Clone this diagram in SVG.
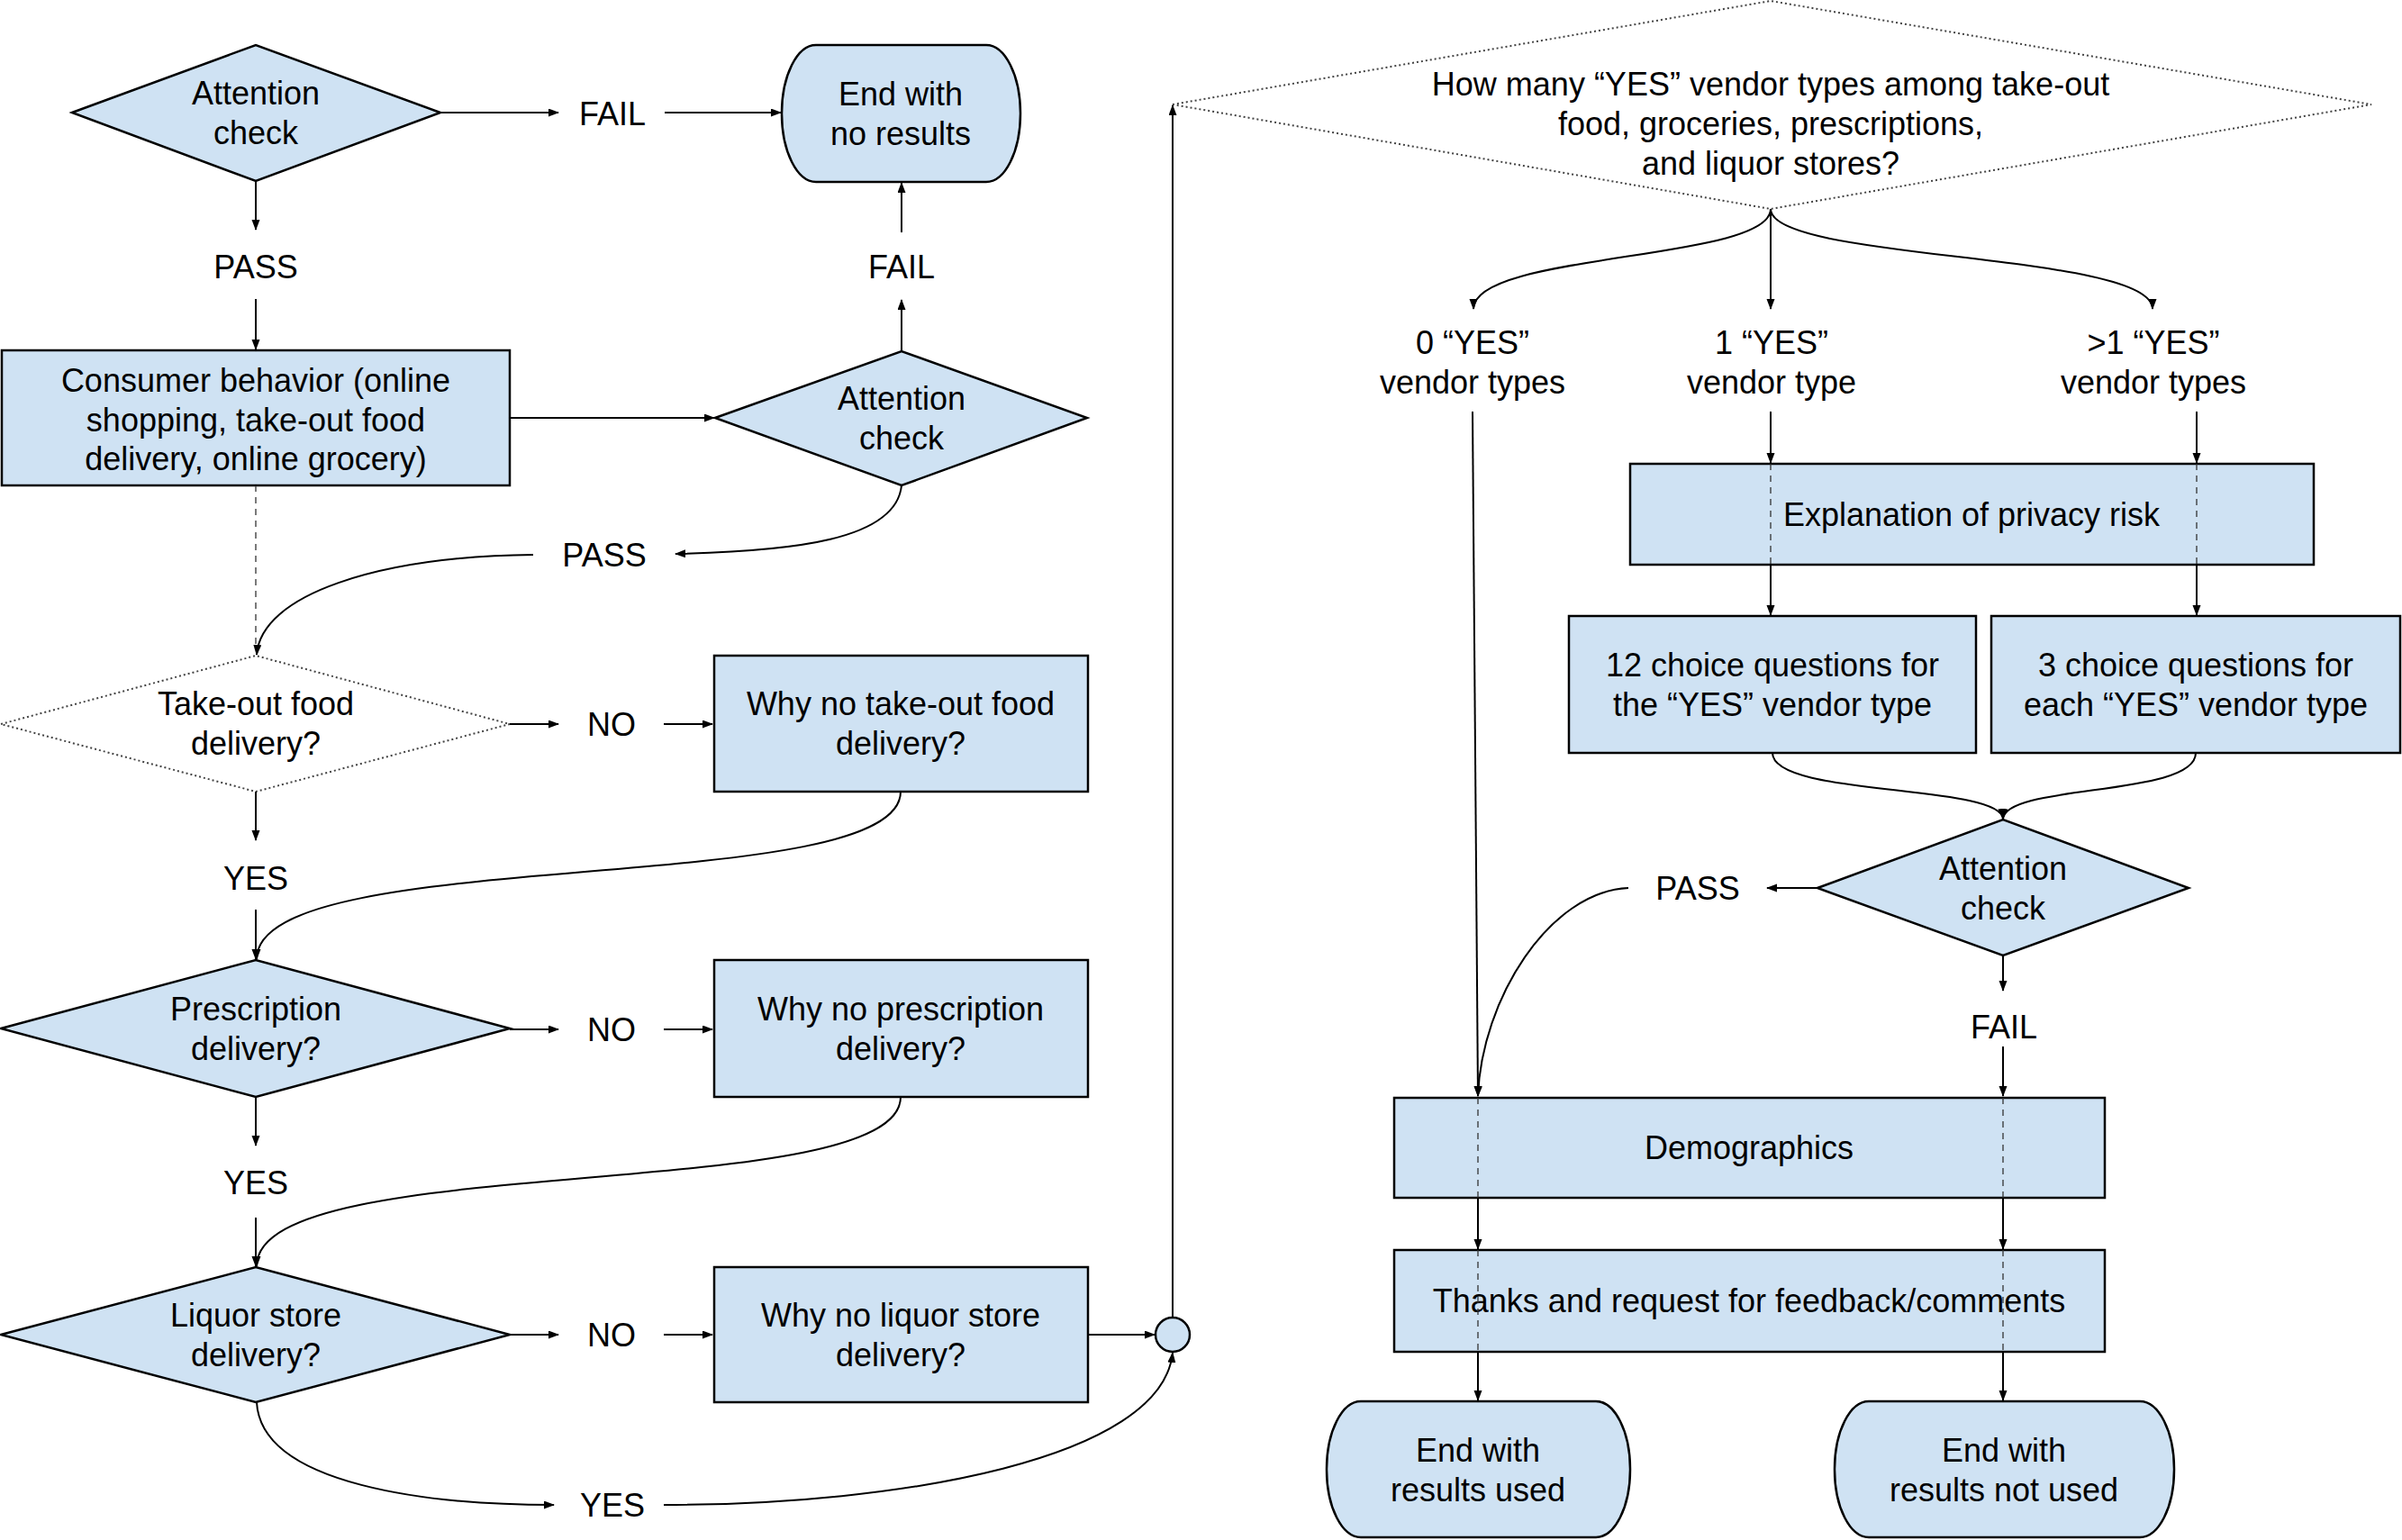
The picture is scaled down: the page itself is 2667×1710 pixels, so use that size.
<svg xmlns="http://www.w3.org/2000/svg" width="2667" height="1710" viewBox="0 0 2667 1710">
  <defs>
    <marker id="arrow" markerUnits="userSpaceOnUse" markerWidth="12" markerHeight="10" refX="11" refY="4.5" orient="auto">
      <path d="M0,0 L12,4.5 L0,9 z" fill="#000"/>
    </marker>
    <style>
      .box { fill: #cfe2f3; stroke: #000; stroke-width: 2.5; }
      .dot { fill: #fff; stroke: #444; stroke-width: 2; stroke-dasharray: 2 3; }
      .conn { fill: none; stroke: #000; stroke-width: 2; marker-end: url(#arrow); }
      .hid { fill: none; stroke: #333; stroke-width: 1.3; stroke-dasharray: 7 6; }
      text { font-family: "Liberation Sans", Arial, sans-serif; font-size: 36px; fill: #000; text-anchor: middle; }
    </style>
  </defs>
  <rect width="2667" height="1710" fill="#fff"/>

  <!-- nodes -->
  <g id="attention-1">
    <polygon class="box" points="80,125 284,50 489,125 284,201"/>
    <text x="284" y="116">Attention</text>
    <text x="284" y="160">check</text>
  </g>
  <g id="label-fail-1"><text x="680" y="139">FAIL</text></g>
  <g id="end-no-results">
    <rect class="box" x="868" y="50" width="265" height="152" rx="38" ry="76"/>
    <text x="1000" y="117">End with</text>
    <text x="1000" y="161">no results</text>
  </g>
  <g id="label-pass-1"><text x="284" y="309">PASS</text></g>
  <g id="label-fail-2"><text x="1001" y="309">FAIL</text></g>
  <g id="consumer-behavior">
    <rect class="box" x="2" y="389" width="564" height="150"/>
    <text x="284" y="435">Consumer behavior (online</text>
    <text x="284" y="479">shopping, take-out food</text>
    <text x="284" y="522">delivery, online grocery)</text>
  </g>
  <g id="attention-2">
    <polygon class="box" points="794,464 1001,390 1207,464 1001,539"/>
    <text x="1001" y="455">Attention</text>
    <text x="1001" y="499">check</text>
  </g>
  <g id="label-pass-2"><text x="671" y="629">PASS</text></g>
  <g id="takeout-question">
    <polygon class="dot" points="1,804 284,728 566,804 284,879"/>
    <text x="284" y="794">Take-out food</text>
    <text x="284" y="838">delivery?</text>
  </g>
  <g id="label-no-1"><text x="679" y="817">NO</text></g>
  <g id="why-no-takeout">
    <rect class="box" x="793" y="728" width="415" height="151"/>
    <text x="1000" y="794">Why no take-out food</text>
    <text x="1000" y="838">delivery?</text>
  </g>
  <g id="label-yes-1"><text x="284" y="988">YES</text></g>
  <g id="prescription-question">
    <polygon class="box" points="1,1142 284,1066 566,1142 284,1218"/>
    <text x="284" y="1133">Prescription</text>
    <text x="284" y="1177">delivery?</text>
  </g>
  <g id="label-no-2"><text x="679" y="1156">NO</text></g>
  <g id="why-no-prescription">
    <rect class="box" x="793" y="1066" width="415" height="152"/>
    <text x="1000" y="1133">Why no prescription</text>
    <text x="1000" y="1177">delivery?</text>
  </g>
  <g id="label-yes-2"><text x="284" y="1326">YES</text></g>
  <g id="liquor-question">
    <polygon class="box" points="1,1482 284,1407 566,1482 284,1557"/>
    <text x="284" y="1473">Liquor store</text>
    <text x="284" y="1517">delivery?</text>
  </g>
  <g id="label-no-3"><text x="679" y="1495">NO</text></g>
  <g id="why-no-liquor">
    <rect class="box" x="793" y="1407" width="415" height="150"/>
    <text x="1000" y="1473">Why no liquor store</text>
    <text x="1000" y="1517">delivery?</text>
  </g>
  <g id="label-yes-3"><text x="680" y="1684">YES</text></g>
  <g id="merge-point">
    <circle class="box" cx="1302" cy="1482" r="19" stroke-width="2"/>
  </g>

  <g id="vendor-count-question">
    <polygon class="dot" points="1302,116 1966,1 2633,116 1966,232"/>
    <text x="1966" y="106">How many “YES” vendor types among take-out</text>
    <text x="1966" y="150">food, groceries, prescriptions,</text>
    <text x="1966" y="194">and liquor stores?</text>
  </g>
  <g id="label-zero-yes">
    <text x="1635" y="393">0 “YES”</text>
    <text x="1635" y="437">vendor types</text>
  </g>
  <g id="label-one-yes">
    <text x="1967" y="393">1 “YES”</text>
    <text x="1967" y="437">vendor type</text>
  </g>
  <g id="label-many-yes">
    <text x="2391" y="393">&gt;1 “YES”</text>
    <text x="2391" y="437">vendor types</text>
  </g>
  <g id="privacy-risk">
    <rect class="box" x="1810" y="515" width="759" height="112"/>
    <text x="2189" y="584">Explanation of privacy risk</text>
  </g>
  <g id="twelve-questions">
    <rect class="box" x="1742" y="684" width="452" height="152"/>
    <text x="1968" y="751">12 choice questions for</text>
    <text x="1968" y="795">the “YES” vendor type</text>
  </g>
  <g id="three-questions">
    <rect class="box" x="2211" y="684" width="454" height="152"/>
    <text x="2438" y="751">3 choice questions for</text>
    <text x="2438" y="795">each “YES” vendor type</text>
  </g>
  <g id="attention-3">
    <polygon class="box" points="2018,986 2224,910 2430,986 2224,1061"/>
    <text x="2224" y="977">Attention</text>
    <text x="2224" y="1021">check</text>
  </g>
  <g id="label-pass-3"><text x="1885" y="999">PASS</text></g>
  <g id="label-fail-3"><text x="2225" y="1153">FAIL</text></g>
  <g id="demographics">
    <rect class="box" x="1548" y="1219" width="789" height="111"/>
    <text x="1942" y="1287">Demographics</text>
  </g>
  <g id="thanks">
    <rect class="box" x="1548" y="1388" width="789" height="113"/>
    <text x="1942" y="1457">Thanks and request for feedback/comments</text>
  </g>
  <g id="end-results-used">
    <rect class="box" x="1473" y="1556" width="337" height="151" rx="38" ry="75"/>
    <text x="1641" y="1623">End with</text>
    <text x="1641" y="1667">results used</text>
  </g>
  <g id="end-results-not-used">
    <rect class="box" x="2037" y="1556" width="377" height="151" rx="38" ry="75"/>
    <text x="2225" y="1623">End with</text>
    <text x="2225" y="1667">results not used</text>
  </g>

  <!-- connectors -->
  <g id="connectors">
    <path class="conn" d="M489,125 L620,125"/>
    <path class="conn" d="M738,125 L867,125"/>
    <path class="conn" d="M284,201 L284,255"/>
    <path class="conn" d="M284,332 L284,388"/>
    <path class="conn" d="M566,464 L793,464"/>
    <path class="conn" d="M1001,390 L1001,333"/>
    <path class="conn" d="M1001,258 L1001,203"/>
    <path class="conn" d="M1001,539 C995,600 880,612 750,615"/>
    <path class="conn" d="M592,616 C420,618 290,660 285,727"/>
    <path class="hid" d="M284,539 L284,715"/>

    <path class="conn" d="M566,804 L620,804"/>
    <path class="conn" d="M737,804 L791,804"/>
    <path class="conn" d="M284,879 L284,933"/>
    <path class="conn" d="M284,1010 L284,1065"/>
    <path class="conn" d="M1000,879 C1000,1000 285,935 285,1065"/>

    <path class="conn" d="M566,1143 L620,1143"/>
    <path class="conn" d="M737,1143 L791,1143"/>
    <path class="conn" d="M284,1218 L284,1272"/>
    <path class="conn" d="M284,1352 L284,1406"/>
    <path class="conn" d="M1000,1218 C1000,1340 285,1275 285,1406"/>

    <path class="conn" d="M566,1482 L620,1482"/>
    <path class="conn" d="M737,1482 L791,1482"/>
    <path class="conn" d="M1208,1482 L1282,1482"/>
    <path class="conn" d="M285,1557 C290,1650 480,1671 615,1671"/>
    <path class="conn" d="M737,1671 C1000,1671 1290,1620 1302,1502"/>
    <path class="conn" d="M1302,1463 L1302,117"/>

    <path class="conn" d="M1966,232 C1966,290 1636,280 1636,343"/>
    <path class="conn" d="M1966,232 L1966,343"/>
    <path class="conn" d="M1966,232 C1966,290 2390,280 2390,343"/>

    <path class="conn" d="M1966,457 L1966,514"/>
    <path class="conn" d="M2439,457 L2439,514"/>
    <path class="hid" d="M1966,515 L1966,627"/>
    <path class="hid" d="M2439,515 L2439,627"/>
    <path class="conn" d="M1966,627 L1966,683"/>
    <path class="conn" d="M2439,627 L2439,683"/>
    <path class="conn" d="M1968,836 C1968,885 2220,870 2224,909"/>
    <path class="conn" d="M2438,836 C2438,885 2228,870 2224,909"/>

    <path class="conn" d="M2018,986 L1962,986"/>
    <path class="conn" d="M1808,986 C1720,990 1645,1110 1641,1217"/>
    <path class="conn" d="M1635,457 L1641,1217"/>
    <path class="conn" d="M2224,1061 L2224,1100"/>
    <path class="conn" d="M2224,1162 L2224,1217"/>

    <path class="hid" d="M1641,1219 L1641,1330"/>
    <path class="hid" d="M2224,1219 L2224,1330"/>
    <path class="conn" d="M1641,1330 L1641,1387"/>
    <path class="conn" d="M2224,1330 L2224,1387"/>
    <path class="hid" d="M1641,1388 L1641,1501"/>
    <path class="hid" d="M2224,1388 L2224,1501"/>
    <path class="conn" d="M1641,1501 L1641,1555"/>
    <path class="conn" d="M2224,1501 L2224,1555"/>
  </g>
</svg>
